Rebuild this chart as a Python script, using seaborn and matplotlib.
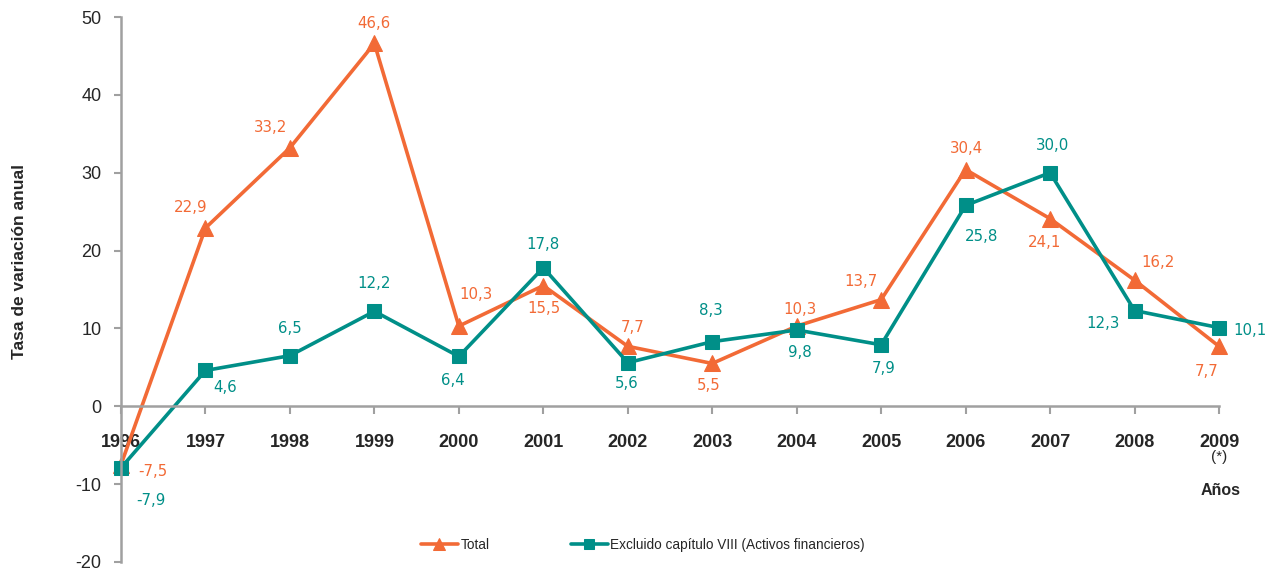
import pandas as pd
import numpy as np
import matplotlib.pyplot as plt
import seaborn as sns

years = [1996, 1997, 1998, 1999, 2000, 2001, 2002, 2003, 2004, 2005, 2006, 2007, 2008, 2009]
total = [-7.5, 22.9, 33.2, 46.6, 10.3, 15.5, 7.7, 5.5, 10.3, 13.7, 30.4, 24.1, 16.2, 7.7]
excluido = [-7.9, 4.6, 6.5, 12.2, 6.4, 17.8, 5.6, 8.3, 9.8, 7.9, 25.8, 30.0, 12.3, 10.1]
year_labels = [str(y) for y in years]

# label offsets in pixels (dx, dy) relative to each point
total_off = [(32, -7), (-15, 20), (-19, 20), (0, 20), (17, 32), (1, -23), (5, 19),
             (-4, -22), (3, 17), (-20, 18), (1, 21), (-6, -24), (23, 18), (-12, -25)]
excl_off = [(30, -33), (20, -17), (0, 27), (0, 28), (-6, -24), (0, 23), (-1, -21),
            (-1, 31), (3, -23), (2, -24), (16, -31), (2, 27), (-32, -13), (31, -3)]

c_total = '#F26A36'
c_excl = '#008F88'

sns.set_style('white')
plt.rcParams['font.family'] = ['Liberation Sans', 'DejaVu Sans']
plt.rcParams['axes.unicode_minus'] = False

fig = plt.figure(figsize=(12.69, 5.68), dpi=100)
ax = fig.add_axes([121 / 1269, 6 / 568, 1098 / 1269, 545 / 568])

sns.lineplot(x=years, y=total, marker='^', markersize=11, color=c_total, mec=c_total,
             linewidth=2.6, label='Total', ax=ax)
sns.lineplot(x=years, y=excluido, marker='s', markersize=10, color=c_excl, mec=c_excl,
             linewidth=2.6, label='Excluido capítulo VIII (Activos financieros)', ax=ax)
for ln in ax.lines:
    ln.set_clip_on(False)

def fmt(v):
    return f'{v:.1f}'.replace('.', ',')

for x, v, (dx, dy) in zip(years, total, total_off):
    ax.annotate(fmt(v), xy=(x, v), xytext=(dx, dy), textcoords='offset pixels',
                ha='center', va='center', color=c_total, fontsize=10.8,
                family='DejaVu Sans', annotation_clip=False)
for x, v, (dx, dy) in zip(years, excluido, excl_off):
    ax.annotate(fmt(v), xy=(x, v), xytext=(dx, dy), textcoords='offset pixels',
                ha='center', va='center', color=c_excl, fontsize=10.8,
                family='DejaVu Sans', annotation_clip=False)

# spines first (set_position resets the ticks)
for s in ['top', 'right']:
    ax.spines[s].set_visible(False)
ax.spines['bottom'].set_position(('data', 0))
for s in ['left', 'bottom']:
    ax.spines[s].set_color('#A0A0A0')
    ax.spines[s].set_linewidth(1.8)
ax.grid(False)

ax.set_xlim(1996, 2009)
ax.set_ylim(-20, 50)
ax.tick_params(axis='y', labelsize=13, length=5, width=1.5, color='#A0A0A0',
               direction='out', pad=9, left=True)
ax.tick_params(axis='x', labelsize=13, length=6, width=1.5, color='#A0A0A0',
               direction='out', pad=14, bottom=True)
ax.set_yticks(range(-20, 51, 10))
ax.set_xticks(years)
ax.set_xticklabels(year_labels, fontweight='bold', fontsize=13)

ax.annotate('(*)', xy=(2009, 0), xytext=(0, -51), textcoords='offset pixels',
            ha='center', va='center', fontsize=11, annotation_clip=False)
ax.annotate('Años', xy=(2009, 0), xytext=(2, -84), textcoords='offset pixels',
            ha='center', va='center', fontsize=11.5, fontweight='bold',
            annotation_clip=False)

ax.set_ylabel('')
fig.text(20 / 1269, 1 - 262 / 568, 'Tasa de variación anual', rotation=90,
         ha='center', va='center', fontsize=12.5, fontweight='bold')

ax.legend(loc='center', bbox_to_anchor=(643 / 1269, 1 - 545 / 568),
          bbox_transform=fig.transFigure, ncol=2, frameon=False, fontsize=9.8,
          handlelength=2.7, handletextpad=0.2, columnspacing=6.0, markerscale=0.75)

fig.savefig('out.png', dpi=100)
